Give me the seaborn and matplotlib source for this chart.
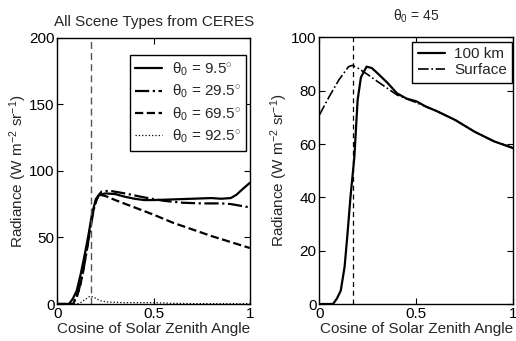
import numpy as np
import pandas as pd
import matplotlib
matplotlib.use("Agg")
import matplotlib.pyplot as plt
import seaborn as sns

# ---------------- data ----------------
# Left panel: all scene types from CERES
x_95 = [0, 0.06, 0.08, 0.10, 0.12, 0.14, 0.16, 0.18, 0.20, 0.22, 0.25, 0.30, 0.35,
        0.40, 0.45, 0.50, 0.60, 0.70, 0.80, 0.85, 0.90, 0.93, 0.96, 1.0]
y_95 = [0, 0, 4, 10, 22, 36, 51, 68, 79, 82, 83, 82.5, 80.5, 79, 78, 78, 78.5, 79,
        79.5, 79, 79.5, 82, 86, 91]

x_295 = [0, 0.07, 0.09, 0.11, 0.13, 0.15, 0.17, 0.19, 0.21, 0.23, 0.27, 0.35, 0.45,
         0.55, 0.65, 0.75, 0.85, 0.90, 1.0]
y_295 = [0, 0, 3, 10, 22, 38, 56, 72, 81, 84.5, 85, 83, 80, 77.5, 76, 75.5, 75.5, 75, 72.5]

x_695 = [0, 0.08, 0.10, 0.12, 0.14, 0.16, 0.18, 0.20, 0.22, 0.25, 0.30, 0.40, 0.50,
         0.60, 0.70, 0.80, 0.90, 1.0]
y_695 = [0, 0, 5, 15, 30, 48, 66, 78, 82, 81, 78, 72.5, 67, 61, 56, 51, 46.5, 42]

x_925 = [0, 0.10, 0.12, 0.15, 0.17, 0.19, 0.22, 0.26, 0.35, 0.50, 0.60, 0.70, 1.0]
y_925 = [0, 0, 1, 4, 6, 5, 2.5, 1.5, 1, 1, 0.5, 0.3, 0.3]

left_labels = ["θ$_0$ = 9.5$^{\\circ}$", "θ$_0$ = 29.5$^{\\circ}$",
               "θ$_0$ = 69.5$^{\\circ}$", "θ$_0$ = 92.5$^{\\circ}$"]

# Right panel: theta0 = 45
x_100km = [0, 0.07, 0.09, 0.11, 0.13, 0.145, 0.16, 0.18, 0.197, 0.214, 0.243, 0.27,
           0.30, 0.35, 0.40, 0.45, 0.50, 0.55, 0.60, 0.70, 0.80, 0.90, 1.0]
y_100km = [0, 0, 2, 5, 14, 26.5, 40, 55, 76.5, 85, 89, 88.5, 86.5, 83, 79, 77, 76, 74,
           72.5, 69, 64.6, 61, 58.4]

x_surf = [0, 0.05, 0.10, 0.15, 0.17, 0.20, 0.25, 0.30, 0.40, 0.50, 0.55, 0.60, 0.70,
          0.80, 0.90, 1.0]
y_surf = [70.9, 77.7, 84, 89, 89.5, 88.4, 86, 83.4, 78.4, 75.5, 74, 72.5, 69, 64.6,
          61, 58.6]

right_labels = ["100 km", "Surface"]
cutoff_mu = 0.174

# ---------------- style ----------------
sns.set_style("ticks")
plt.rcParams['font.family'] = ['Liberation Sans', 'DejaVu Sans']
plt.rcParams['mathtext.fontset'] = 'custom'
plt.rcParams['mathtext.rm'] = 'Liberation Sans'
plt.rcParams['mathtext.it'] = 'Liberation Sans:italic'
FS = 11

fig = plt.figure(figsize=(5.16, 3.41), dpi=100)
axL = fig.add_axes([0.1114, 0.1085, 0.373, 0.7815])
axR = fig.add_axes([0.619, 0.1085, 0.376, 0.782])

def style_axes(ax):
    ax.tick_params(direction='in', top=True, right=True, length=4, width=0.8,
                   labelsize=FS, pad=2, colors='black')
    for s in ax.spines.values():
        s.set_visible(True)
        s.set_color('black')
        s.set_linewidth(1.0)
    ax.set_facecolor('white')

# Left panel
sns.lineplot(x=x_95, y=y_95, ax=axL, color='black', lw=1.6, linestyle='-', label=left_labels[0])
sns.lineplot(x=x_295, y=y_295, ax=axL, color='black', lw=1.6, linestyle='-.', label=left_labels[1])
sns.lineplot(x=x_695, y=y_695, ax=axL, color='black', lw=1.6, linestyle='--', label=left_labels[2])
sns.lineplot(x=x_925, y=y_925, ax=axL, color='black', lw=0.9, linestyle=':', label=left_labels[3])
axL.axvline(cutoff_mu, color='#555555', lw=1.0, linestyle=(0, (5, 3)))
axL.set_xlim(0, 1)
axL.set_ylim(0, 200)
axL.set_xticks([0, 0.5, 1])
axL.set_xticklabels(['0', '0.5', '1'])
axL.set_yticks([0, 50, 100, 150, 200])
axL.set_xlabel('Cosine of Solar Zenith Angle', fontsize=FS, labelpad=1)
axL.set_ylabel('Radiance (W m$^{-2}$ sr$^{-1}$)', fontsize=FS, labelpad=0.5)
axL.set_title('All Scene Types from CERES', fontsize=FS, pad=8)
style_axes(axL)
legL = axL.legend(loc='upper right', bbox_to_anchor=(0.979, 0.934), fontsize=FS,
                  frameon=True, fancybox=False, framealpha=1, edgecolor='black',
                  handlelength=1.8, labelspacing=0.33, borderpad=0.35, handletextpad=0.6,
                  borderaxespad=0)
legL.get_frame().set_linewidth(1.0)

# Right panel
sns.lineplot(x=x_100km, y=y_100km, ax=axR, color='black', lw=1.6, linestyle='-', label=right_labels[0])
sns.lineplot(x=x_surf, y=y_surf, ax=axR, color='black', lw=1.2, linestyle='-.', label=right_labels[1])
axR.axvline(cutoff_mu, color='black', lw=0.9, linestyle=(0, (4, 3)))
axR.set_xlim(0, 1)
axR.set_ylim(0, 100)
axR.set_xticks([0, 0.5, 1])
axR.set_xticklabels(['0', '0.5', '1'])
axR.set_yticks([0, 20, 40, 60, 80, 100])
axR.set_xlabel('Cosine of Solar Zenith Angle', fontsize=FS, labelpad=1)
axR.set_ylabel('Radiance (W m$^{-2}$ sr$^{-1}$)', fontsize=FS, labelpad=0.5)
axR.set_title('θ$_0$ = 45', fontsize=FS - 1, pad=12)
style_axes(axR)
legR = axR.legend(loc='upper right', bbox_to_anchor=(0.995, 0.982), fontsize=FS,
                  frameon=True, fancybox=False, framealpha=1, edgecolor='black',
                  handlelength=1.8, labelspacing=0.12, borderpad=0.35, handletextpad=0.6,
                  borderaxespad=0)
legR.get_frame().set_linewidth(1.0)

fig.savefig('out.png', dpi=100, facecolor='white')
